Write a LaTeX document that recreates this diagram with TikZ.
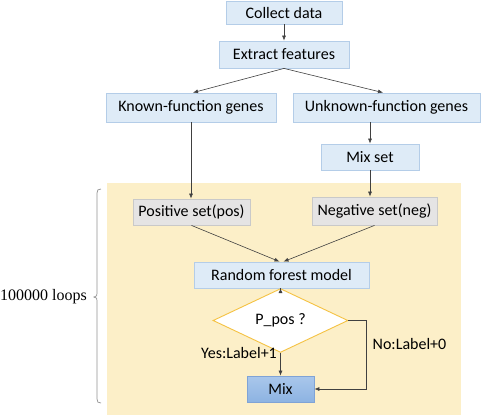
\documentclass[tikz,border=0pt]{standalone}
\usepackage{fontspec}
\setmainfont{Carlito}
\newfontfamily\loopsfont{Liberation Serif}
\usetikzlibrary{shapes.geometric,arrows.meta,calc}
\definecolor{bluefill}{HTML}{DEEBF7}
\definecolor{blueedge}{HTML}{B4CDE8}
\definecolor{grayfill}{HTML}{E5E4E4}
\definecolor{grayedge}{HTML}{C9C9C9}
\definecolor{bgyellow}{HTML}{FCEFC8}
\definecolor{goldedge}{HTML}{F5C242}
\definecolor{mixtop}{HTML}{A9C7EB}
\definecolor{mixbot}{HTML}{8DB3E2}
\definecolor{mixedge}{HTML}{7FA3D6}
\definecolor{arrowcol}{HTML}{404040}
\definecolor{bracecol}{HTML}{909090}
\tikzset{
  txt/.style={font=\fontsize{16}{18}\selectfont, text=black},
  bluebox/.style={txt, draw=blueedge, fill=bluefill, line width=0.8pt, inner sep=0pt},
  graybox/.style={txt, draw=grayedge, fill=grayfill, line width=0.8pt, inner sep=0pt},
  mixbox/.style={txt, draw=mixedge, top color=mixtop, bottom color=mixbot, line width=0.8pt, inner sep=0pt},
  decision/.style={txt, diamond, draw=goldedge, fill=white, line width=0.9pt, inner sep=0pt},
  arr/.style={draw=arrowcol, line width=0.6pt, -{Latex[length=5pt,width=4pt]}},
  lbl/.style={txt, inner sep=0pt}
}
\begin{document}
\begin{tikzpicture}[x=1pt,y=-1pt]
\useasboundingbox (0,0) rectangle (481,416);
\fill[bgyellow] (107,183) rectangle (461,415);

\node[bluebox, minimum width=116pt, minimum height=23pt] (collect) at (284,12.5) {Collect data};
\node[bluebox, minimum width=130pt, minimum height=27pt] (extract) at (284,54.5) {Extract features};
\node[bluebox, minimum width=170pt, minimum height=29pt] (known) at (191,107.5) {Known-function genes};
\node[bluebox, minimum width=187pt, minimum height=29pt] (unknown) at (386.5,107.5) {Unknown-function genes};
\node[bluebox, minimum width=98pt, minimum height=26pt] (mixset) at (370,157) {Mix set};
\node[graybox, minimum width=117pt, minimum height=26pt] (pos) at (191.5,212) {Positive set(pos)};
\node[graybox, minimum width=125pt, minimum height=28pt] (neg) at (374.5,211) {Negative set(neg)};
\node[bluebox, minimum width=175pt, minimum height=26pt] (rf) at (281.5,275) {Random forest model};
\node[decision, minimum width=135pt, minimum height=35pt] (dec) at (280.5,320.5) {P\_pos ?};
\node[mixbox, minimum width=67pt, minimum height=26pt] (mix) at (280.5,389) {Mix};

\draw[arr] (collect) -- (extract);
\draw[arr] (extract.south) -- ($(known.north)+(2,0)$);
\draw[arr] (extract.south) -- ($(unknown.north)+(-3.5,0)$);
\draw[arr] (known) -- (pos.north -| known);
\draw[arr] (mixset.north |- unknown.south) -- (mixset);
\draw[arr] (mixset) -- (neg.north -| mixset);
\draw[arr] (pos.south) -- ($(rf.north)+(-2,0)$);
\draw[arr] (neg.south) -- ($(rf.north)+(2,0)$);
\draw[arr] (rf.south -| dec.north) -- (dec.north);
\draw[arr] (dec.south) -- (mix.north);
\draw[arr] (dec.east) -- ++(18,0) |- (mix.east);

\node[lbl] (yes) at (239,353) {Yes:Label+1};
\node[lbl] (no) at (409.5,344) {No:Label+0};

\draw[bracecol, line width=0.7pt] (101,189) .. controls (98,189) and (97,190) .. (97,193) -- (97,293) .. controls (97,296) .. (94,297) .. controls (97,298) .. (97,301) -- (97,399) .. controls (97,402) and (98,403) .. (101,403);
\node[inner sep=0pt, font=\loopsfont\fontsize{16}{18}\selectfont] (loops) at (43.5,297) {100000 loops};
\end{tikzpicture}
\end{document}
